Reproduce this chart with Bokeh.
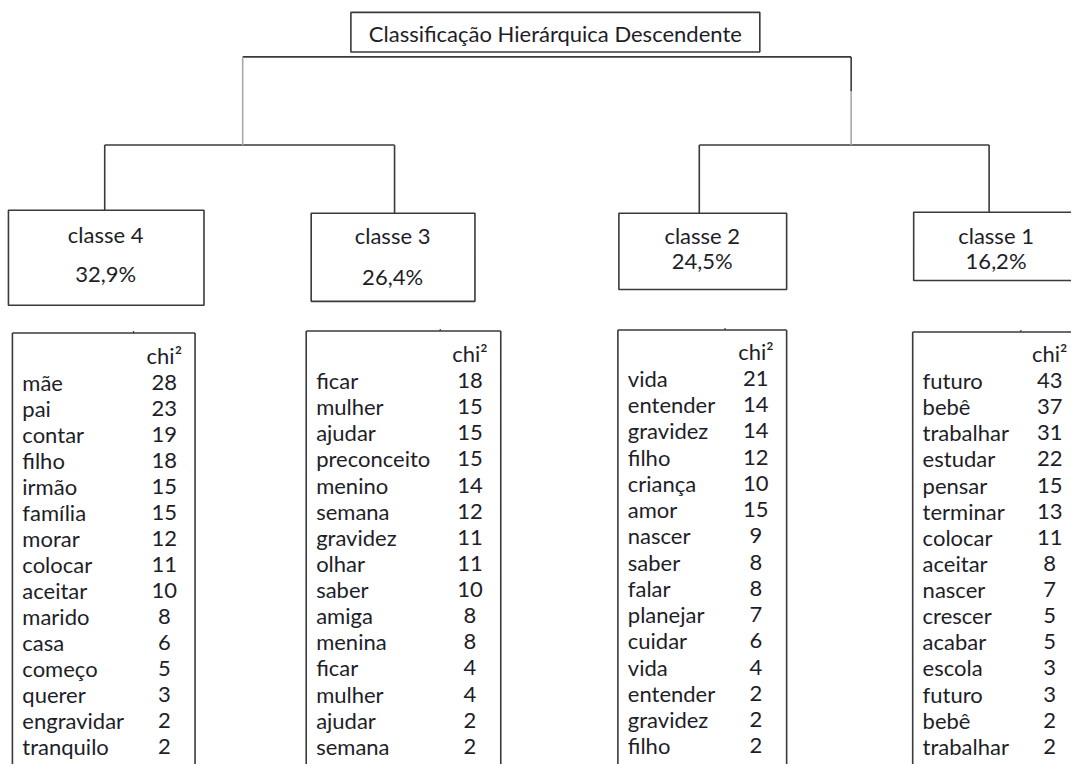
from bokeh.plotting import figure
from bokeh.models import Range1d, ColumnDataSource
from bokeh.core.properties import value
from bokeh.embed import file_html
from bokeh.resources import INLINE

# ---------------- data ----------------
title = "Classificação Hierárquica Descendente"
classes = ["classe 4", "classe 3", "classe 2", "classe 1"]
percents = ["32,9%", "26,4%", "24,5%", "16,2%"]

words4 = ["mãe", "pai", "contar", "filho", "irmão", "família", "morar", "colocar",
          "aceitar", "marido", "casa", "começo", "querer", "engravidar", "tranquilo"]
chi4 = [28, 23, 19, 18, 15, 15, 12, 11, 10, 8, 6, 5, 3, 2, 2]

words3 = ["ficar", "mulher", "ajudar", "preconceito", "menino", "semana", "gravidez",
          "olhar", "saber", "amiga", "menina", "ficar", "mulher", "ajudar", "semana"]
chi3 = [18, 15, 15, 15, 14, 12, 11, 11, 10, 8, 8, 4, 4, 2, 2]

words2 = ["vida", "entender", "gravidez", "filho", "criança", "amor", "nascer", "saber",
          "falar", "planejar", "cuidar", "vida", "entender", "gravidez", "filho"]
chi2 = [21, 14, 14, 12, 10, 15, 9, 8, 8, 7, 6, 4, 2, 2, 2]

words1 = ["futuro", "bebê", "trabalhar", "estudar", "pensar", "terminar", "colocar",
          "aceitar", "nascer", "crescer", "acabar", "escola", "futuro", "bebê", "trabalhar"]
chi1 = [43, 37, 31, 22, 15, 13, 11, 8, 7, 5, 5, 3, 3, 2, 2]

chi_header = "chi²"

# ---------------- layout (reference pixel coordinates, y downward) ----------------
W, H = 1071, 764
FONT = value("Lato")
FS = "22px"
TXT = "#1e1e28"
LINE = "#3a3a3a"
GREY = "#a8a8a8"

p = figure(width=W, height=H, output_backend="svg", toolbar_location=None,
           x_range=Range1d(0, 1079), y_range=Range1d(772, 0),
           min_border=0, outline_line_color=None)
p.axis.visible = False
p.grid.visible = False
p.background_fill_color = "white"
p.border_fill_color = "white"

# title box
p.quad(left=[353], right=[765], top=[12], bottom=[52], fill_color="white",
       line_color=LINE, line_width=1.6)
p.text(x=[559], y=[33], text=[title], text_font=FONT, text_font_size=FS,
       text_align="center", text_baseline="middle", text_color=TXT)

# dendrogram
p.segment(x0=[244, 105, 704, 857], y0=[57, 146, 146, 57],
          x1=[857, 397, 996, 857], y1=[57, 146, 146, 92],
          line_color=LINE, line_width=1.6)
p.segment(x0=[244, 857], y0=[57, 92], x1=[244, 857], y1=[146, 146],
          line_color=GREY, line_width=1.6)
p.segment(x0=[105, 397, 704, 996], y0=[146, 146, 146, 146],
          x1=[105, 397, 704, 996], y1=[212, 215, 215, 214],
          line_color=LINE, line_width=1.6)

# class boxes
box_l = [8, 313, 623, 920]
box_r = [205, 478, 792, 1095]
box_t = [212, 215, 215, 214]
box_b = [308, 304, 292, 283]
p.quad(left=box_l, right=box_r, top=box_t, bottom=box_b, fill_color="white",
       line_color=LINE, line_width=1.6)
cx = [106, 395, 707, 1003]
p.text(x=cx, y=[236, 237, 237, 237], text=classes, text_font=FONT,
       text_font_size=FS, text_align="center", text_baseline="middle", text_color=TXT)
p.text(x=cx, y=[276, 279, 263, 263], text=percents, text_font=FONT,
       text_font_size=FS, text_align="center", text_baseline="middle", text_color=TXT)

# tables
tables = [
    dict(words=words4, chi=chi4, left=12, right=196, top=336, tick=134,
         wx=22, nx=165, hy=359, y0=386, dy=26.3),
    dict(words=words3, chi=chi3, left=308, right=504, top=334, tick=443,
         wx=318, nx=473, hy=357, y0=384, dy=26.4),
    dict(words=words2, chi=chi2, left=622, right=792, top=333, tick=730,
         wx=632, nx=761, hy=355, y0=382, dy=26.5),
    dict(words=words1, chi=chi1, left=919, right=None, top=335, tick=1028,
         wx=929, nx=1057, hy=357, y0=384, dy=26.4),
]
for t in tables:
    right = t["right"] if t["right"] is not None else 1100
    p.segment(x0=[t["left"]], y0=[t["top"]], x1=[right], y1=[t["top"]],
              line_color=LINE, line_width=1.6)
    xs = [t["left"]] + ([t["right"]] if t["right"] is not None else [])
    p.segment(x0=xs, y0=[t["top"]] * len(xs), x1=xs, y1=[800] * len(xs),
              line_color=LINE, line_width=1.6)
    p.segment(x0=[t["tick"]], y0=[t["top"] - 2], x1=[t["tick"]], y1=[t["top"]],
              line_color=LINE, line_width=1.2)
    p.text(x=[t["nx"]], y=[t["hy"]], text=[chi_header], text_font=FONT,
           text_font_size=FS, text_align="center", text_baseline="alphabetic",
           text_color=TXT)
    n = len(t["words"])
    ys = [t["y0"] + i * t["dy"] for i in range(n)]
    src = ColumnDataSource(dict(y=ys, w=t["words"], c=[str(v) for v in t["chi"]],
                                wx=[t["wx"]] * n, nx=[t["nx"]] * n))
    p.text(x="wx", y="y", text="w", source=src, text_font=FONT, text_font_size=FS,
           text_align="left", text_baseline="alphabetic", text_color=TXT)
    p.text(x="nx", y="y", text="c", source=src, text_font=FONT, text_font_size=FS,
           text_align="center", text_baseline="alphabetic", text_color=TXT)

open("out.html", "w").write(file_html(p, INLINE))
